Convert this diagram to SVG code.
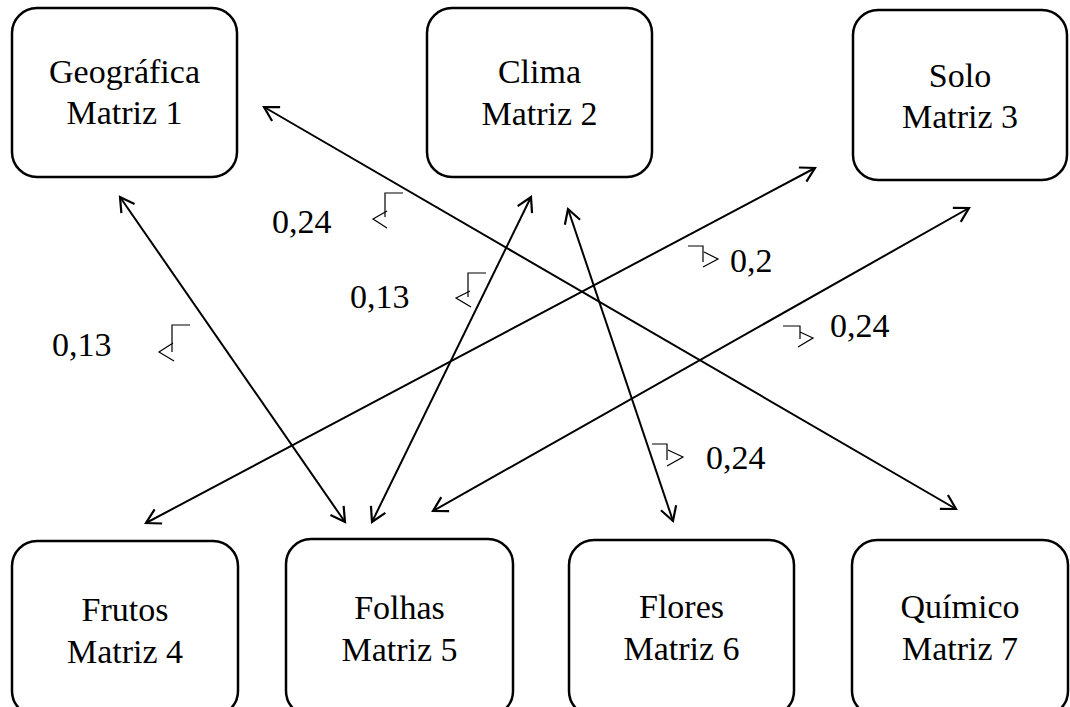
<svg xmlns="http://www.w3.org/2000/svg" width="1070" height="707" viewBox="0 0 1070 707">
<defs>
<style>
.box{fill:#fff;stroke:#000;stroke-width:2.5}
text{font-family:'Liberation Serif','Tinos','Times New Roman','DejaVu Serif',serif;font-size:34px;fill:#000}
.lbl{text-anchor:middle}
.con{stroke:#000;stroke-width:2;fill:none;marker-start:url(#ah);marker-end:url(#ah)}
.pin{stroke:#000;stroke-width:1.2;fill:none}
</style>
<marker id="ah" markerUnits="userSpaceOnUse" markerWidth="20" markerHeight="20" refX="16" refY="8" orient="auto-start-reverse" overflow="visible">
<path d="M2,0 L16,8 L2,16" fill="none" stroke="#000" stroke-width="2.2"/>
</marker>
</defs>
<rect width="1070" height="707" fill="#fff"/>
<g id="connectors">
<line class="con" x1="120" y1="197" x2="345" y2="522"/>
<line class="con" x1="264" y1="107" x2="956" y2="509"/>
<line class="con" x1="531" y1="197" x2="372" y2="522"/>
<line class="con" x1="568" y1="209" x2="673" y2="521"/>
<line class="con" x1="815" y1="168" x2="146" y2="523"/>
<line class="con" x1="969" y1="208" x2="433" y2="511"/>
</g>
<g id="n1"><rect class="box" x="12" y="8" width="225" height="169" rx="25"/>
<text class="lbl" x="124.5" y="83" font-family="Liberation Serif, DejaVu Serif, serif">Geográfica</text><text class="lbl" x="124.5" y="124" font-family="Liberation Serif, DejaVu Serif, serif">Matriz 1</text></g>
<g id="n2"><rect class="box" x="427" y="8" width="225" height="169" rx="25"/>
<text class="lbl" x="539.5" y="83">Clima</text><text class="lbl" x="539.5" y="125">Matriz 2</text></g>
<g id="n3"><rect class="box" x="853" y="10" width="214" height="170" rx="25"/>
<text class="lbl" x="960" y="87">Solo</text><text class="lbl" x="960" y="128">Matriz 3</text></g>
<g id="n4"><rect class="box" x="12" y="541" width="226" height="175" rx="25"/>
<text class="lbl" x="125" y="621">Frutos</text><text class="lbl" x="125" y="663">Matriz 4</text></g>
<g id="n5"><rect class="box" x="286" y="539" width="227" height="177" rx="25"/>
<text class="lbl" x="399.5" y="619">Folhas</text><text class="lbl" x="399.5" y="661">Matriz 5</text></g>
<g id="n6"><rect class="box" x="569" y="540" width="225" height="176" rx="25"/>
<text class="lbl" x="681.5" y="618">Flores</text><text class="lbl" x="681.5" y="660">Matriz 6</text></g>
<g id="n7"><rect class="box" x="852" y="540" width="216" height="176" rx="25"/>
<text class="lbl" x="960" y="618">Químico</text><text class="lbl" x="960" y="660">Matriz 7</text></g>
<g id="labels">
<text x="272" y="233">0,24</text>
<path class="pin" d="M403,193 H385 V217 M387,211 L373,219 L387,228"/>
<text x="350" y="308">0,13</text>
<path class="pin" d="M486,273 H468 V297 M470,291 L456,298 L471,307"/>
<text x="52" y="356">0,13</text>
<path class="pin" d="M190,325 H172 V352 M173,343 L159,352 L174,361"/>
<text x="730" y="272">0,2</text>
<path class="pin" d="M688,246 H703 V262 M704,252 L718,259 L703,267"/>
<text x="830" y="337">0,24</text>
<path class="pin" d="M783,326 H800 V339 M800,332 L813,338 L798,347"/>
<text x="706" y="469">0,24</text>
<path class="pin" d="M652,444 H667 V460 M668,450 L683,457 L667,466"/>
</g>
</svg>
